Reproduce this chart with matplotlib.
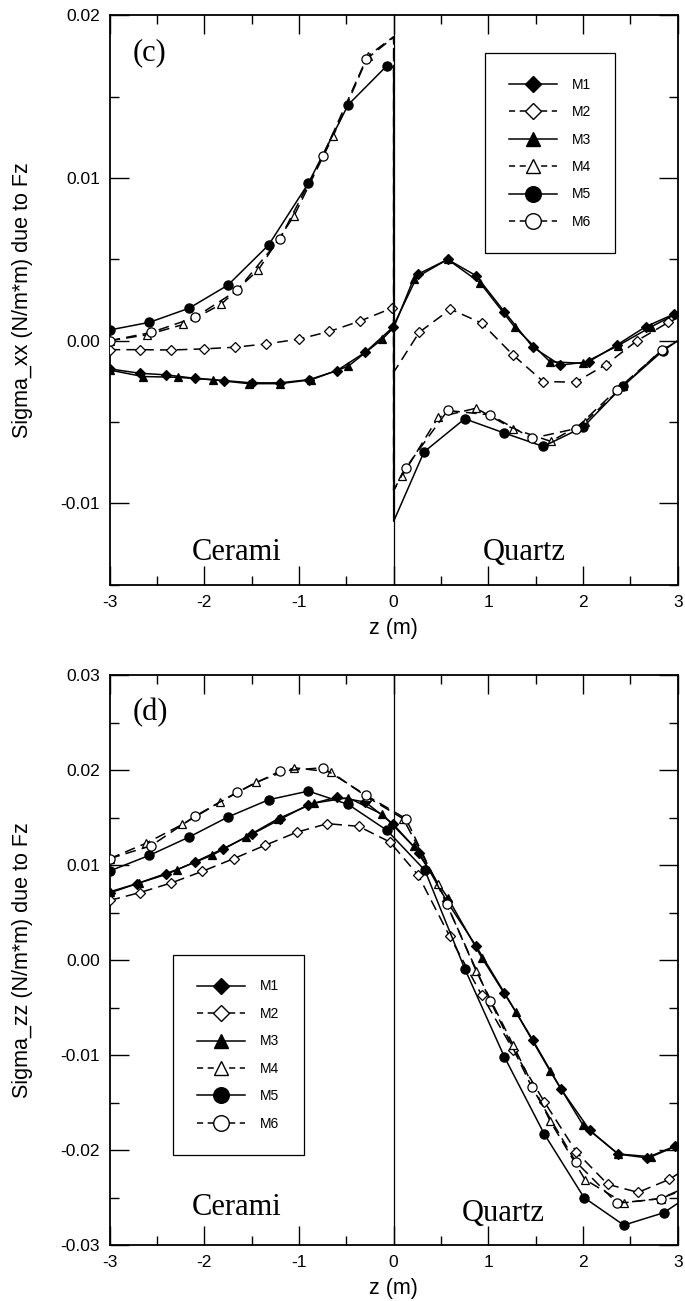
import matplotlib
matplotlib.use('Agg')
import matplotlib.pyplot as plt
from matplotlib.lines import Line2D
from matplotlib.ticker import MultipleLocator, FuncFormatter

plt.rcParams['font.family'] = ['Liberation Sans', 'DejaVu Sans']
plt.rcParams['axes.unicode_minus'] = False

labels = ['M1', 'M2', 'M3', 'M4', 'M5', 'M6']

# ---- panel (c): Sigma_xx ----
c_m1_x = [-3.0, -2.68, -2.4, -2.1, -1.79, -1.5, -1.2, -0.89, -0.6, -0.3, -0.01, 0.26, 0.57, 0.87, 1.17, 1.47, 1.76, 2.06, 2.36, 2.66, 2.96, 3.0]
c_m1_y = [-0.00173, -0.0020, -0.0021, -0.00231, -0.00245, -0.00259, -0.00259, -0.00239, -0.00184, -0.00071, 0.00082,
          0.0041, 0.0050, 0.0040, 0.00178, -0.0004, -0.0015, -0.00129, -0.00025, 0.00086, 0.00164, 0.0017]
c_m2_x = [-3.0, -2.68, -2.35, -2.0, -1.68, -1.35, -1.0, -0.68, -0.36, -0.02, 0.0, 0.0, 0.27, 0.6, 0.93, 1.26, 1.58, 1.92, 2.24, 2.57, 2.9, 3.0]
c_m2_y = [-0.00055, -0.00055, -0.00057, -0.0005, -0.0004, -0.0002, 0.0001, 0.00057, 0.0012, 0.0020, 0.00205,
          -0.00194, 0.00052, 0.00194, 0.00108, -0.00088, -0.00251, -0.00255, -0.00147, 0.0, 0.00113, 0.0014]
c_m3_x = [-3.0, -2.65, -2.28, -1.91, -1.53, -1.2, -0.87, -0.48, -0.12, 0.0, 0.21, 0.57, 0.91, 1.28, 1.65, 2.0, 2.37, 2.72, 3.0]
c_m3_y = [-0.0018, -0.0022, -0.00225, -0.0024, -0.00264, -0.00264, -0.0024, -0.00157, 0.0001, 0.0008,
          0.0038, 0.0050, 0.00358, 0.00082, -0.00129, -0.00139, -0.0003, 0.00086, 0.0017]
c_m4_x = [-3.0, -2.6, -2.22, -1.82, -1.43, -1.05, -0.64, -0.27, 0.0, 0.0, 0.09, 0.47, 0.87, 1.26, 1.66, 2.02, 2.42, 2.82, 3.0]
c_m4_y = [0.0, 0.00037, 0.0010, 0.00225, 0.00435, 0.0077, 0.01257, 0.01752, 0.0187,
          -0.0092, -0.0083, -0.0047, -0.00415, -0.00541, -0.00619, -0.0050, -0.0028, -0.0006, 0.0]
c_m5_x = [-3.0, -2.58, -2.16, -1.75, -1.32, -0.9, -0.48, -0.07, 0.0, 0.0, 0.32, 0.75, 1.17, 1.58, 2.0, 2.42, 2.84, 3.0]
c_m5_y = [0.00066, 0.00113, 0.002, 0.00342, 0.00589, 0.00969, 0.01451, 0.01692, 0.0168,
          -0.0111, -0.00684, -0.0048, -0.00568, -0.0065, -0.00531, -0.00279, -0.00063, 0.0]
c_m6_x = [-3.0, -2.56, -2.1, -1.65, -1.2, -0.75, -0.29, 0.0, 0.0, 0.13, 0.57, 1.02, 1.46, 1.92, 2.36, 2.83, 3.0]
c_m6_y = [0.0, 0.00051, 0.00143, 0.00311, 0.00628, 0.01134, 0.01731, 0.01866,
          -0.0092, -0.0078, -0.00429, -0.00456, -0.006, -0.00541, -0.003, -0.0006, 0.0]

# ---- panel (d): Sigma_zz ----
d_m1_x = [-3.0, -2.71, -2.4, -2.1, -1.8, -1.5, -1.2, -0.9, -0.6, -0.3, -0.01, 0.27, 0.56, 0.87, 1.17, 1.47, 1.77, 2.07, 2.37, 2.67, 2.97, 3.0]
d_m1_y = [0.00709, 0.00807, 0.00905, 0.01035, 0.01175, 0.01326, 0.01484, 0.01639, 0.01719, 0.01667, 0.01439,
          0.01134, 0.00624, 0.0015, -0.00344, -0.00842, -0.01361, -0.0179, -0.02042, -0.02081, -0.01958, -0.0194]
d_m2_x = [-3.0, -2.68, -2.35, -2.02, -1.69, -1.36, -1.02, -0.7, -0.37, -0.04, 0.26, 0.59, 0.93, 1.26, 1.59, 1.93, 2.26, 2.58, 2.91, 3.0]
d_m2_y = [0.0063, 0.00713, 0.00814, 0.00937, 0.0107, 0.0121, 0.0135, 0.01439, 0.01411, 0.01246,
          0.00895, 0.00255, -0.00368, -0.0094, -0.0149, -0.0202, -0.0236, -0.02445, -0.02308, -0.0225]
d_m3_x = [-3.0, -2.69, -2.29, -1.92, -1.56, -1.22, -0.84, -0.48, -0.12, 0.21, 0.57, 0.93, 1.29, 1.65, 2.0, 2.37, 2.72, 3.0]
d_m3_y = [0.0072, 0.00814, 0.00954, 0.01105, 0.01298, 0.01491, 0.01656, 0.01712, 0.01537,
          0.012, 0.0066, 0.00028, -0.00544, -0.01165, -0.01737, -0.0204, -0.0207, -0.0195]
d_m4_x = [-3.0, -2.61, -2.23, -1.83, -1.45, -1.05, -0.66, -0.28, 0.1, 0.47, 0.87, 1.26, 1.65, 2.02, 2.43, 2.82, 3.0]
d_m4_y = [0.0107, 0.01235, 0.01432, 0.01667, 0.01877, 0.02028, 0.01982, 0.0172, 0.01491,
          0.008, -0.0011, -0.0089, -0.0169, -0.0231, -0.02555, -0.0251, -0.0243]
d_m5_x = [-3.0, -2.58, -2.16, -1.75, -1.32, -0.9, -0.48, -0.07, 0.33, 0.75, 1.17, 1.59, 2.01, 2.43, 2.85, 3.0]
d_m5_y = [0.0094, 0.01105, 0.01298, 0.01509, 0.01691, 0.01782, 0.01642, 0.01368,
          0.00947, -0.00088, -0.0102, -0.0183, -0.025, -0.0279, -0.0266, -0.0256]
d_m6_x = [-3.0, -2.56, -2.1, -1.65, -1.2, -0.75, -0.29, 0.13, 0.56, 1.02, 1.46, 1.92, 2.36, 2.82, 3.0]
d_m6_y = [0.0107, 0.01207, 0.01516, 0.01772, 0.01993, 0.02028, 0.01737, 0.01491,
          0.0059, -0.00428, -0.0134, -0.0212, -0.0256, -0.0251, -0.0244]

c_series = [(c_m1_x, c_m1_y), (c_m2_x, c_m2_y), (c_m3_x, c_m3_y),
            (c_m4_x, c_m4_y), (c_m5_x, c_m5_y), (c_m6_x, c_m6_y)]
d_series = [(d_m1_x, d_m1_y), (d_m2_x, d_m2_y), (d_m3_x, d_m3_y),
            (d_m4_x, d_m4_y), (d_m5_x, d_m5_y), (d_m6_x, d_m6_y)]

# marker / line style per series
mk = ['D', 'D', '^', '^', 'o', 'o']
ms = [4.6, 4.6, 6.2, 6.2, 6.6, 6.6]
face = ['k', 'w', 'k', 'w', 'k', 'w']
ls = ['-', '--', '-', '--', '-', '--']


def draw_panel(ax, series, ylim, ylabel, tag, leg_pos, cer_y, qua_x, qua_y):
    ax.axvline(0, color='k', lw=0.9, zorder=1)
    for i, (x, y) in enumerate(series):
        idx = [k for k, v in enumerate(x) if v not in (0.0, 3.0)]
        line, = ax.plot(x, y, color='k', lw=1.1, ls=ls[i], marker=mk[i], ms=ms[i],
                        mfc=face[i], mec='k', mew=0.9, markevery=idx, zorder=2 + i)
        if ls[i] == '--':
            line.set_dashes((7, 4))
    ax.set_xlim(-3, 3)
    ax.set_ylim(*ylim)
    ax.xaxis.set_major_locator(MultipleLocator(1))
    ax.xaxis.set_minor_locator(MultipleLocator(0.5))
    ax.yaxis.set_major_locator(MultipleLocator(0.01))
    ax.yaxis.set_minor_locator(MultipleLocator(0.005))
    ax.xaxis.set_major_formatter(FuncFormatter(lambda v, p: '%d' % round(v)))
    ax.yaxis.set_major_formatter(FuncFormatter(lambda v, p: '%.2f' % (round(v * 100) / 100 + 0.0)))
    ax.tick_params(which='both', direction='in', top=True, right=True, width=1.0)
    ax.tick_params(which='major', length=13.5, labelsize=12.5)
    ax.tick_params(axis='x', which='major', pad=7.5)
    ax.tick_params(axis='y', which='major', pad=7)
    ax.tick_params(which='minor', length=6.8)
    for s in ax.spines.values():
        s.set_linewidth(1.3)
    ax.set_xlabel('z (m)', fontsize=15.5)
    ax.set_ylabel(ylabel, fontsize=15.5)
    ax.xaxis.set_label_coords(0.5, -0.058)
    ax.yaxis.set_label_coords(-0.135, 0.5)

    ax.text(0.071, 0.934, tag, transform=ax.transAxes, family='Liberation Serif',
            fontsize=22, ha='center', va='center')
    ax.text(0.224, cer_y, 'Cerami', transform=ax.transAxes, family='Liberation Serif',
            fontsize=22, ha='center', va='baseline')
    ax.text(qua_x, qua_y, 'Quartz', transform=ax.transAxes, family='Liberation Serif',
            fontsize=22, ha='center', va='baseline')

    handles = []
    for i in range(6):
        h = Line2D([], [], color='k', lw=1.1, ls=ls[i], marker=mk[i], ms=ms[i] * 1.7,
                   mfc=face[i], mec='k', mew=1.0)
        if ls[i] == '--':
            h.set_dashes((4, 3))
        handles.append(h)
    leg = ax.legend(handles, labels, loc='upper left', bbox_to_anchor=leg_pos,
                    borderaxespad=0, fontsize=10, numpoints=1, handlelength=3.45,
                    handletextpad=1.05, labelspacing=0.97, borderpad=1.75,
                    fancybox=False, framealpha=1, edgecolor='k')
    leg.get_frame().set_linewidth(0.9)


fig = plt.figure(figsize=(6.85, 13.01), dpi=100)
ax1 = fig.add_axes([0.1599, 0.5506, 0.8296, 0.4375])
ax2 = fig.add_axes([0.1599, 0.0430, 0.8296, 0.4378])

draw_panel(ax1, c_series, (-0.015, 0.02), 'Sigma_xx (N/m*m) due to Fz', '(c)',
           (0.660, 0.9336), 0.043, 0.73, 0.043)
draw_panel(ax2, d_series, (-0.03, 0.03), 'Sigma_zz (N/m*m) due to Fz', '(d)',
           (0.112, 0.509), 0.053, 0.693, 0.043)

fig.savefig('out.png', dpi=100)
